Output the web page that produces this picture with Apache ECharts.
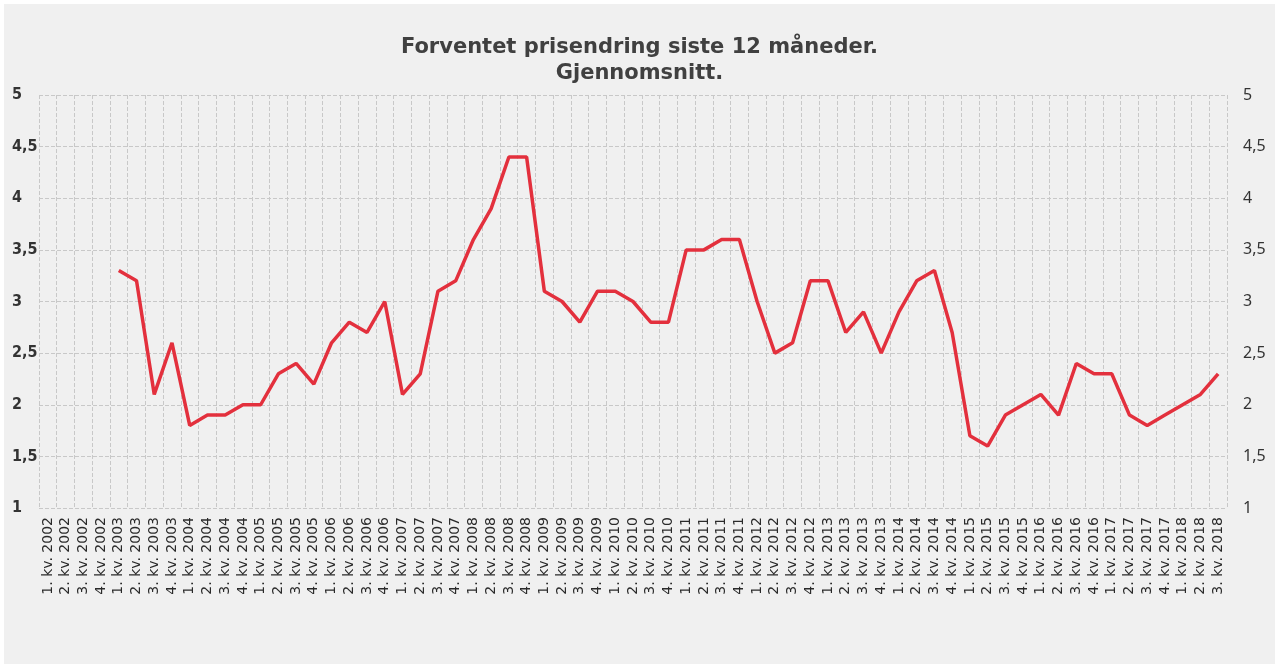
<!DOCTYPE html>
<html>
<head>
<meta charset="utf-8">
<script src="https://cdn.jsdelivr.net/npm/echarts@6/dist/echarts.min.js"></script>
<style>
    html, body { margin: 0; padding: 0; background: #ffffff; }
    #main { position: absolute; left: 4px; top: 4px; width: 1271px; height: 660px; background: #f0f0f0; }
</style>
</head>
<body>
<div id="main"></div>
<script>
// kvartaler 2002-2018
var years = ['2002', '2003', '2004', '2005', '2006', '2007', '2008', '2009', '2010',
    '2011', '2012', '2013', '2014', '2015', '2016', '2017', '2018'];
var categories = [];
years.forEach(function (y) {
    for (var q = 1; q <= 4; q++) {
        if (y == '2018' && q > 3) break;
        categories.push(q + '. kv. ' + y);
    }
});

// forventet prisendring, gjennomsnitt (ingen data for 2002)
var values = [
    null, null, null, null,
    3.3, 3.2, 2.1, 2.6,
    1.8, 1.9, 1.9, 2.0,
    2.0, 2.3, 2.4, 2.2,
    2.6, 2.8, 2.7, 3.0,
    2.1, 2.3, 3.1, 3.2,
    3.6, 3.9, 4.4, 4.4,
    3.1, 3.0, 2.8, 3.1,
    3.1, 3.0, 2.8, 2.8,
    3.5, 3.5, 3.6, 3.6,
    3.0, 2.5, 2.6, 3.2,
    3.2, 2.7, 2.9, 2.5,
    2.9, 3.2, 3.3, 2.7,
    1.7, 1.6, 1.9, 2.0,
    2.1, 1.9, 2.4, 2.3,
    2.3, 1.9, 1.8, 1.9,
    2.0, 2.1, 2.3
];

var yMin = 1, yMax = 5, yStep = 0.5;

function fmt(v) {
    return String(v).replace('.', ',');
}

var myChart = echarts.init(document.getElementById('main'));
var option = {
    animation: false,
    title: {
        text: 'Forventet prisendring siste 12 måneder.\nGjennomsnitt.',
        left: 'center',
        top: 26,
        textStyle: {
            fontFamily: 'DejaVu Sans',
            fontSize: 21,
            fontWeight: 'bold',
            color: '#404040',
            lineHeight: 26
        }
    },
    grid: { left: 35, right: 48, top: 91, height: 413 },
    xAxis: {
        type: 'category',
        data: categories,
        boundaryGap: true,
        axisLine: { show: false },
        axisTick: { show: false },
        axisLabel: {
            interval: 0,
            rotate: 90,
            margin: 9,
            fontFamily: 'DejaVu Sans',
            fontSize: 14,
            color: '#2a2a2a'
        },
        splitLine: {
            show: true,
            interval: 0,
            lineStyle: { color: '#c8c8c8', type: 'dashed', width: 1 }
        }
    },
    yAxis: [{
        type: 'value',
        min: yMin, max: yMax, interval: yStep,
        position: 'left',
        axisLine: { show: false },
        axisTick: { show: false },
        axisLabel: {
            align: 'left',
            margin: 27,
            fontFamily: '"DejaVu Sans Condensed", "DejaVu Sans"',
            fontWeight: 'bold',
            fontSize: 16,
            color: '#333',
            formatter: fmt
        },
        splitLine: { lineStyle: { color: '#c8c8c8', type: 'dashed', width: 1 } }
    }, {
        type: 'value',
        min: yMin, max: yMax, interval: yStep,
        position: 'right',
        axisLine: { show: false },
        axisTick: { show: false },
        axisLabel: {
            align: 'left',
            margin: 16,
            fontFamily: 'Noto Sans',
            fontSize: 16,
            color: '#333',
            formatter: fmt
        },
        splitLine: { show: false }
    }],
    series: [{
        type: 'line',
        data: values,
        yAxisIndex: 0,
        symbol: 'none',
        lineStyle: { color: '#e3303d', width: 3.5 }
    }]
};
myChart.setOption(option);
</script>
</body>
</html>
